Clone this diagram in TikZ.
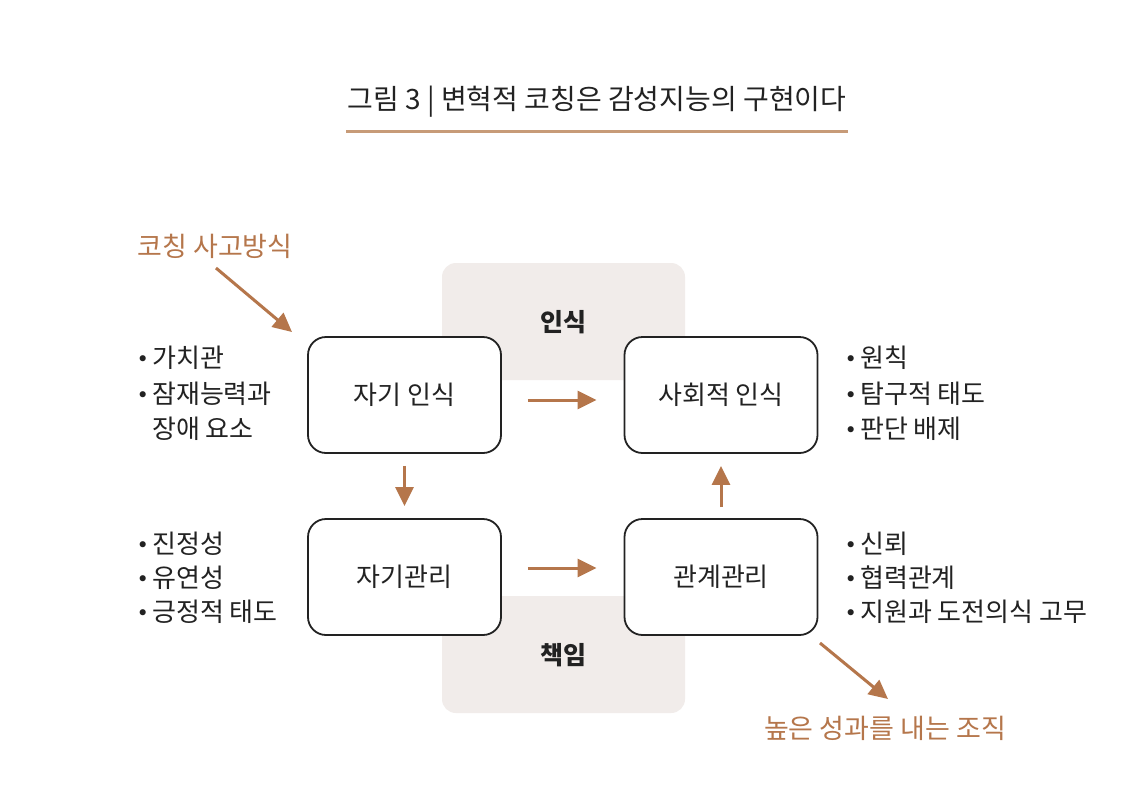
\documentclass[tikz,border=0pt]{standalone}
\usepackage{fontspec}
\setmainfont{Noto Sans CJK KR}
\newfontfamily\dejavu{DejaVu Sans}
\usetikzlibrary{arrows.meta}
\definecolor{brn}{HTML}{B5764B}
\definecolor{lbrn}{HTML}{C79B78}
\definecolor{shd}{HTML}{F1ECEA}
\definecolor{ink}{HTML}{222222}
\newcommand{\mybul}{\makebox[19pt][c]{\raisebox{1pt}{\fontsize{21}{21}\dejavu •}}}
\begin{document}
\begin{tikzpicture}[x=1pt,y=-1pt,
  box/.style={draw=ink,line width=1.8pt,fill=white,rounded corners=18pt,minimum width=193pt,minimum height=116pt,inner sep=0pt,font=\fontsize{26}{26}\selectfont,text=ink},
  arr/.style={draw=brn,line width=3pt,-{Triangle[length=19pt,width=18pt]}},
  item/.style={anchor=west,inner sep=0pt,font=\fontsize{26}{26}\selectfont,text=ink},
  zone/.style={fill=shd,rounded corners=14pt},
  zonelbl/.style={font=\fontsize{25}{25}\selectfont\bfseries,text=ink},
  orng/.style={font=\fontsize{27}{27}\selectfont,text=brn}]
\useasboundingbox (0,0) rectangle (1125,809);
\fill[white] (0,0) rectangle (1125,809);
% title
\node[font=\fontsize{28}{28}\selectfont,text=ink] (title) at (597,102) {그림 3 | 변혁적 코칭은 감성지능의 구현이다};
\coordinate (ulA) at (346,131);
\coordinate (ulB) at (848,131);
\draw[lbrn,line width=3pt] (ulA) -- (ulB);
% zones
\fill[zone] (442,263) rectangle (685,380);
\fill[zone] (442,596) rectangle (685,713);
\node[zonelbl] (zi) at (563,322) {인식};
\node[zonelbl] (zr) at (563,655) {책임};
% boxes
\node[box] (sa) at (404.5,395) {자기 인식};
\node[box] (so) at (721,395) {사회적 인식};
\node[box] (sm) at (404.5,577) {자기관리};
\node[box] (rm) at (721,577) {관계관리};
% arrows
\draw[arr] ([xshift=26pt,yshift=-5pt]sa.east) -- ([xshift=-27pt,yshift=-5pt]so.west);
\draw[arr] ([xshift=26pt,yshift=9pt]sm.east) -- ([xshift=-27pt,yshift=9pt]rm.west);
\draw[arr] ([yshift=-12pt]sa.south) -- ([yshift=12pt]sm.north);
\draw[arr] ([yshift=11pt]rm.north) -- ([yshift=-12pt]so.south);
% orange labels
\node[orng] (cth) at (215,246) {코칭 사고방식};
\node[orng] (hpo) at (885,728) {높은 성과를 내는 조직};
\coordinate (cthA) at (216,268);
\coordinate (cthB) at (292,332);
\coordinate (hpoA) at (820,643);
\coordinate (hpoB) at (888,699);
\draw[arr] (cthA) -- (cthB);
\draw[arr] (hpoA) -- (hpoB);
% lists
\node[item] (l1) at (133,358) {\mybul 가치관};
\node[item] (l2) at (133,394) {\mybul 잠재능력과};
\node[item] (l3) at (152,429) {장애 요소};
\node[item] (r1) at (841,358) {\mybul 원칙};
\node[item] (r2) at (841,394) {\mybul 탐구적 태도};
\node[item] (r3) at (841,429) {\mybul 판단 배제};
\node[item] (l4) at (133,544) {\mybul 진정성};
\node[item] (l5) at (133,578) {\mybul 유연성};
\node[item] (l6) at (133,612) {\mybul 긍정적 태도};
\node[item] (r4) at (841,544) {\mybul 신뢰};
\node[item] (r5) at (841,578) {\mybul 협력관계};
\node[item] (r6) at (841,612) {\mybul 지원과 도전의식 고무};
\end{tikzpicture}
\end{document}
